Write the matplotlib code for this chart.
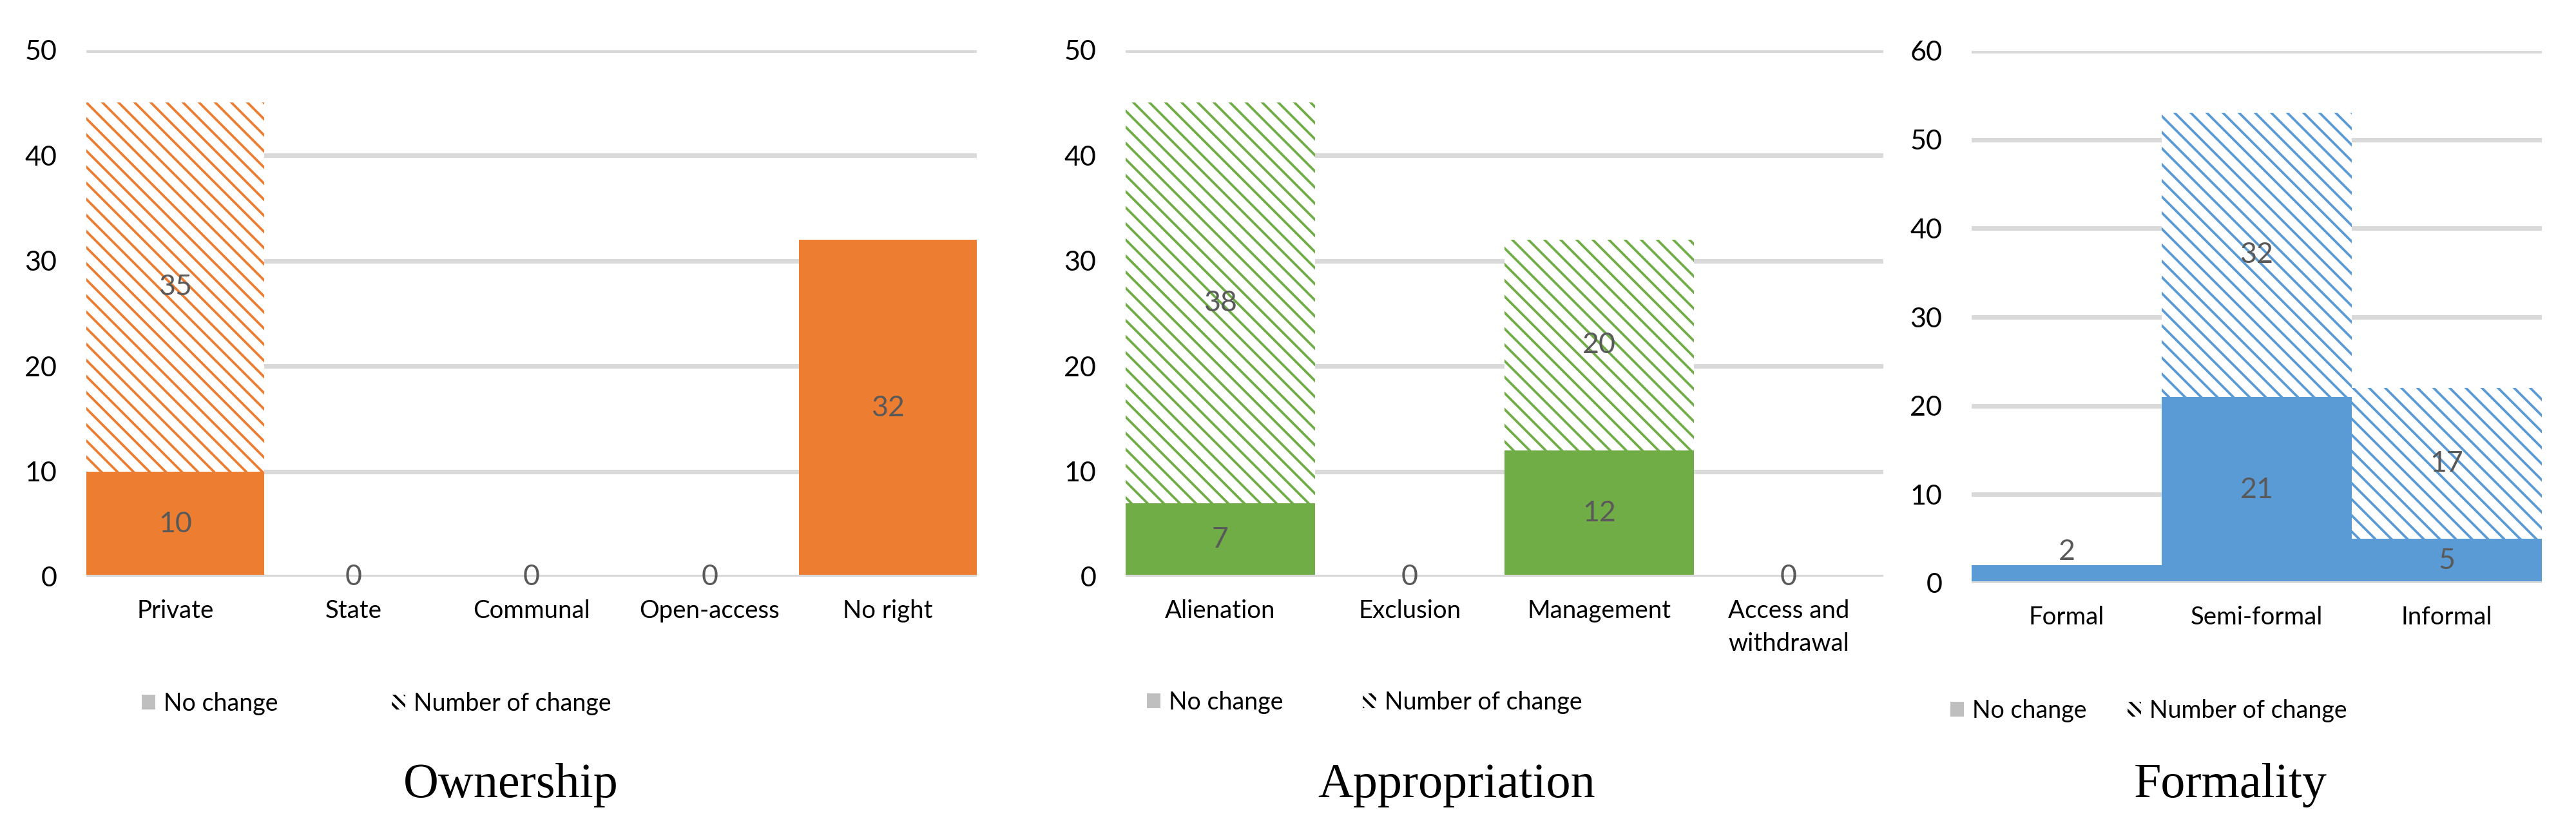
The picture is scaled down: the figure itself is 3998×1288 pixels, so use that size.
import matplotlib
matplotlib.use("Agg")
import matplotlib.pyplot as plt
from matplotlib.patches import Patch

# data
own_cats = ["Private", "State", "Communal", "Open-access", "No right"]
own_nochange = [10, 0, 0, 0, 32]
own_change = [35, 0, 0, 0, 0]

app_cats = ["Alienation", "Exclusion", "Management", "Access and\nwithdrawal"]
app_nochange = [7, 0, 12, 0]
app_change = [38, 0, 20, 0]

form_cats = ["Formal", "Semi-formal", "Informal"]
form_nochange = [2, 21, 5]
form_change = [0, 32, 17]

W, H = 3998, 1288
DPI = 150
plt.rcParams["font.family"] = ["Lato", "DejaVu Sans"]
plt.rcParams["hatch.linewidth"] = 1.8

fig = plt.figure(figsize=(W / DPI, H / DPI), dpi=DPI)


def px_rect(left, right, top, bottom):
    return [left / W, 1 - bottom / H, (right - left) / W, (bottom - top) / H]


def panel(rect, cats, nochange, change, color, ymax, title, title_x, leg_pos):
    ax = fig.add_axes(rect)
    x = list(range(len(cats)))
    ax.bar(x, nochange, width=1.0, color=color, linewidth=0, zorder=2)
    ax.bar(x, change, width=1.0, bottom=nochange, facecolor="white",
           edgecolor=color, hatch="\\\\", linewidth=0, zorder=2)
    ax.set_xlim(-0.5, len(cats) - 0.5)
    ax.set_ylim(0, ymax)
    ax.set_yticks(range(0, ymax + 1, 10))
    ax.set_xticks(x)
    ax.set_xticklabels(cats, fontsize=18.4, linespacing=1.5)
    ax.tick_params(axis="x", length=0, pad=17)
    ax.tick_params(axis="y", length=0, pad=22, labelsize=20.7)
    ax.grid(axis="y", color="#D9D9D9", linewidth=3.4, zorder=0)
    ax.set_axisbelow(True)
    ax.axhline(0, color="#D9D9D9", linewidth=3.4, zorder=3)
    for s in ax.spines.values():
        s.set_visible(False)

    # data labels
    for i in x:
        v = nochange[i]
        if 0 < v < 4:
            ax.text(i, v, str(v), ha="center", va="bottom", fontsize=21.5,
                    color="#595959", zorder=4)
        else:
            ax.text(i, v / 2, str(v), ha="center", va="center", fontsize=21.5,
                    color="#595959", zorder=4)
        c = change[i]
        if c > 0:
            ax.text(i, v + c / 2, str(c), ha="center", va="center",
                    fontsize=21.5, color="#595959", zorder=4)

    # legend, two separate entries placed like the reference
    h1 = Patch(facecolor="#BFBFBF", edgecolor="none")
    h2 = Patch(facecolor="white", edgecolor="black", hatch="\\\\\\", linewidth=0)
    for (lx, ly), h, lab in zip(leg_pos, [h1, h2], ["No change", "Number of change"]):
        fig.legend([h], [lab], loc="center left",
                   bbox_to_anchor=(lx / W, 1 - ly / H), frameon=False,
                   fontsize=18, handlelength=0.55, handleheight=0.55,
                   handletextpad=0.35, borderpad=0, borderaxespad=0)

    fig.text(title_x / W, 1 - 1237 / H, title, ha="center", va="baseline",
             fontsize=36.5, family="Liberation Serif")
    return ax


panel(px_rect(134, 1516, 77.7, 895), own_cats, own_nochange, own_change,
      "#ED7D31", 50, "Ownership", 793, [(220, 1092), (608, 1092)])
panel(px_rect(1747, 2923, 77.7, 895), app_cats, app_nochange, app_change,
      "#70AD47", 50, "Appropriation", 2261, [(1780, 1090), (2115, 1090)])
panel(px_rect(3060, 3945, 79, 905), form_cats, form_nochange, form_change,
      "#5B9BD5", 60, "Formality", 3462, [(3027, 1103), (3302, 1103)])

fig.savefig("out.png", dpi=DPI)
